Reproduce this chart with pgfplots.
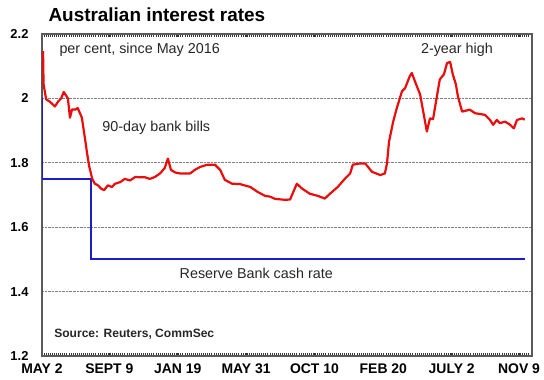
\documentclass[border=0pt]{standalone}
\usepackage{fontspec}
\setmainfont{Liberation Sans}
\usepackage{pgfplots}
\pgfplotsset{compat=1.18}
\definecolor{rl}{RGB}{235,12,12}
\definecolor{bl}{RGB}{30,30,200}
\definecolor{fr}{RGB}{90,90,90}
\begin{document}
\begin{tikzpicture}
\begin{axis}[name=ax, at={(0,0)}, anchor=south west,
  scale only axis, width=490bp, height=322bp,
  xmin=0, xmax=946, ymin=1.2, ymax=2.2,
  xtick={0,130,262,394,526,659,791,921},
  xticklabels={MAY 2,SEPT 9,JAN 19,MAY 31,OCT 10,FEB 20,JULY 2,NOV 9},
  ytick={1.2,1.4,1.6,1.8,2,2.2},
  minor xtick={0,4,...,944},
  tick align=inside,
  major tick length=3.5bp, minor tick length=3.5bp,
  xtick style={black!80, line width=0.8bp},
  minor tick style={black!80, line width=0.8bp},
  ytick style={draw=none},
  ymajorgrids, grid style={densely dotted, gray, line width=0.6bp},
  axis line style={line width=1.2bp, fr},
  /pgf/number format/assume math mode=true,
  yticklabel style={font=\bfseries\fontsize{13}{15}\selectfont, xshift=-10bp},
  xticklabel style={font=\bfseries\fontsize{14}{16}\selectfont, yshift=-4bp},
  clip=false,
]
\addplot[bl, line width=1.8bp] coordinates {
(1,2.0) (1,1.75) (94,1.75) (94,1.5) (932,1.5)};
\addplot[rl, line width=2.2bp, line join=round] coordinates {
(2,2.147) (3,2.044) (8,1.997) (15,1.99) (25,1.975) (31,1.99) (37,2.0) (42,2.02)
(46,2.01) (50,2.0) (54,1.94) (58,1.966) (64,1.965) (69,1.97) (77,1.94) (83,1.875)
(87,1.83) (91,1.79) (97,1.75) (102,1.735) (108,1.73) (114,1.72) (120,1.715) (127,1.73)
(135,1.725) (141,1.735) (151,1.74) (160,1.75) (170,1.745) (180,1.756) (189,1.755)
(199,1.755) (208,1.75) (218,1.756) (228,1.767) (237,1.784) (243,1.813) (249,1.778)
(257,1.77) (266,1.767) (286,1.767) (295,1.778) (305,1.787) (319,1.794) (334,1.794)
(344,1.778) (353,1.747) (367,1.735) (382,1.734) (402,1.725) (417,1.709) (431,1.697)
(440,1.695) (450,1.688) (469,1.685) (479,1.686) (485,1.709) (492,1.735) (502,1.72)
(517,1.704) (533,1.697) (546,1.689) (556,1.704) (571,1.725) (585,1.751) (595,1.767)
(600,1.794) (614,1.798) (624,1.798) (637,1.772) (653,1.762) (662,1.767) (666,1.798)
(670,1.866) (678,1.928) (685,1.97) (695,2.022) (701,2.032) (710,2.069) (714,2.079)
(720,2.053) (730,2.012) (736,1.959) (743,1.897) (749,1.938) (755,1.936) (763,2.012)
(768,2.059) (776,2.075) (782,2.11) (788,2.113) (793,2.075) (799,2.044) (803,2.006)
(811,1.959) (826,1.965) (836,1.954) (855,1.949) (865,1.933) (871,1.918) (878,1.933)
(884,1.923) (894,1.928) (903,1.919) (911,1.907) (917,1.933) (927,1.938) (932,1.934)};
\node[anchor=west, font=\fontsize{14.4}{16}\selectfont, text=black!85] at (axis cs:27,2.15) {per cent, since May 2016};
\node[anchor=west, font=\fontsize{14.4}{16}\selectfont, text=black!85] at (axis cs:110,1.908) {90-day bank bills};
\node[anchor=west, font=\fontsize{14.4}{16}\selectfont, text=black!85] at (axis cs:725,2.15) {2-year high};
\node[anchor=west, font=\fontsize{14.4}{16}\selectfont, text=black!85] at (axis cs:259,1.458) {Reserve Bank cash rate};
\node[anchor=west, font=\bfseries\fontsize{12.1}{14}\selectfont, text=black!85] at (axis cs:17,1.268) {Source: Reuters, CommSec};
\end{axis}
\node[anchor=west, font=\bfseries\fontsize{19}{22}\selectfont] at ([shift={(3bp,19bp)}]ax.north west) {Australian interest rates};
\pgfresetboundingbox
\path ([shift={(-42bp,-24bp)}]ax.south west) rectangle ([shift={(12bp,34bp)}]ax.north east);
\end{tikzpicture}
\end{document}
